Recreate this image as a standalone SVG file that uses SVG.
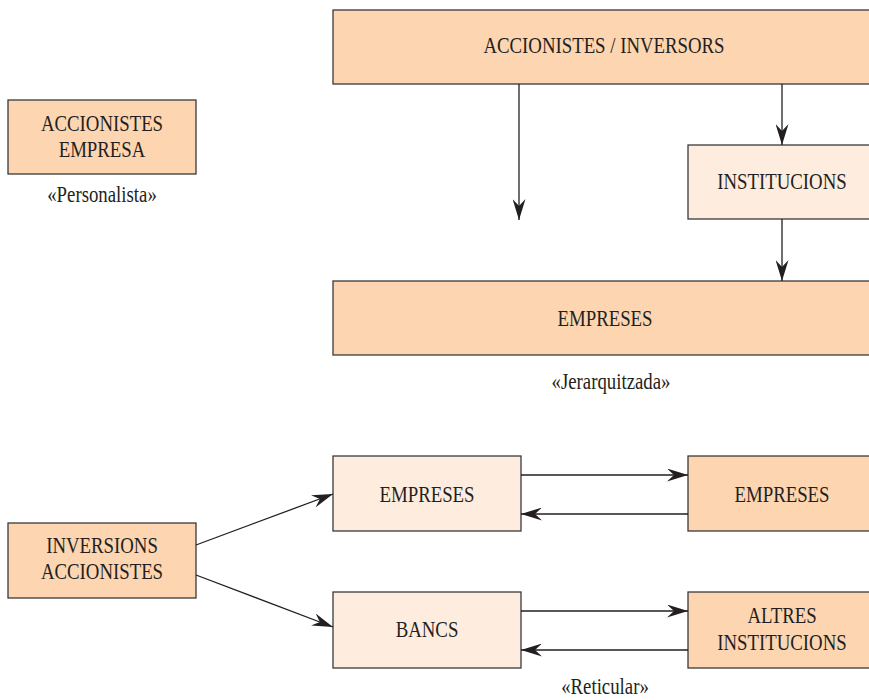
<svg xmlns="http://www.w3.org/2000/svg" width="869" height="700" viewBox="0 0 869 700">
<style>
.d{fill:#FDD5B1;stroke:#3a3a3a;stroke-width:1.3}
.l{fill:#FEECDE;stroke:#3a3a3a;stroke-width:1.3}
.c line{stroke:#231f20;stroke-width:1.3;marker-end:url(#ah)}
</style>
<defs>
<marker id="ah" markerWidth="22" markerHeight="13" refX="21" refY="6.5" orient="auto" markerUnits="userSpaceOnUse" viewBox="0 0 22 13">
<path d="M0,0 L21,6.5 L0,13 L7,6.5 z" fill="#231f20"/>
</marker>
</defs>
<rect width="869" height="700" fill="#fff"/>
<g font-family="Liberation Serif, Times New Roman, serif" font-size="23.5" fill="#231f20" text-anchor="middle">
<g id="accionistes-empresa">
<rect class="d" x="8" y="100" width="188" height="74"/>
<text transform="translate(102,131) scale(0.8,1)">ACCIONISTES</text>
<text transform="translate(102,157) scale(0.8,1)">EMPRESA</text>
</g>
<text transform="translate(102,202) scale(0.8,1)">«Personalista»</text>
<g id="accionistes-inversors">
<rect class="d" x="333" y="10" width="545" height="74"/>
<text transform="translate(604,53) scale(0.8,1)">ACCIONISTES / INVERSORS</text>
</g>
<g id="institucions">
<rect class="l" x="688" y="145" width="190" height="74"/>
<text transform="translate(782,189) scale(0.8,1)">INSTITUCIONS</text>
</g>
<g id="empreses-top">
<rect class="d" x="333" y="281" width="545" height="74"/>
<text transform="translate(605,326) scale(0.8,1)">EMPRESES</text>
</g>
<text transform="translate(611,389) scale(0.8,1)">«Jerarquitzada»</text>
<g id="inversions-accionistes">
<rect class="d" x="8" y="523" width="188" height="75"/>
<text transform="translate(102,553) scale(0.8,1)">INVERSIONS</text>
<text transform="translate(102,579) scale(0.8,1)">ACCIONISTES</text>
</g>
<g id="empreses-l">
<rect class="l" x="333" y="456" width="188" height="75"/>
<text transform="translate(427,502) scale(0.8,1)">EMPRESES</text>
</g>
<g id="empreses-r">
<rect class="d" x="688" y="456" width="190" height="75"/>
<text transform="translate(782,502) scale(0.8,1)">EMPRESES</text>
</g>
<g id="bancs">
<rect class="l" x="333" y="592" width="188" height="76"/>
<text transform="translate(427,637) scale(0.8,1)">BANCS</text>
</g>
<g id="altres-institucions">
<rect class="d" x="688" y="592" width="190" height="76"/>
<text transform="translate(782,623) scale(0.8,1)">ALTRES</text>
<text transform="translate(782,650) scale(0.8,1)">INSTITUCIONS</text>
</g>
<text transform="translate(605,694) scale(0.8,1)">«Reticular»</text>
</g>
<g class="c" id="connectors">
<line x1="519" y1="84" x2="519" y2="220"/>
<line x1="782" y1="84" x2="782" y2="145"/>
<line x1="782" y1="219" x2="782" y2="281"/>
<line x1="196" y1="545" x2="333" y2="494"/>
<line x1="196" y1="575" x2="333" y2="627"/>
<line x1="521" y1="475" x2="688" y2="475"/>
<line x1="688" y1="514" x2="521" y2="514"/>
<line x1="521" y1="611" x2="688" y2="611"/>
<line x1="688" y1="650" x2="521" y2="650"/>
</g>
</svg>
